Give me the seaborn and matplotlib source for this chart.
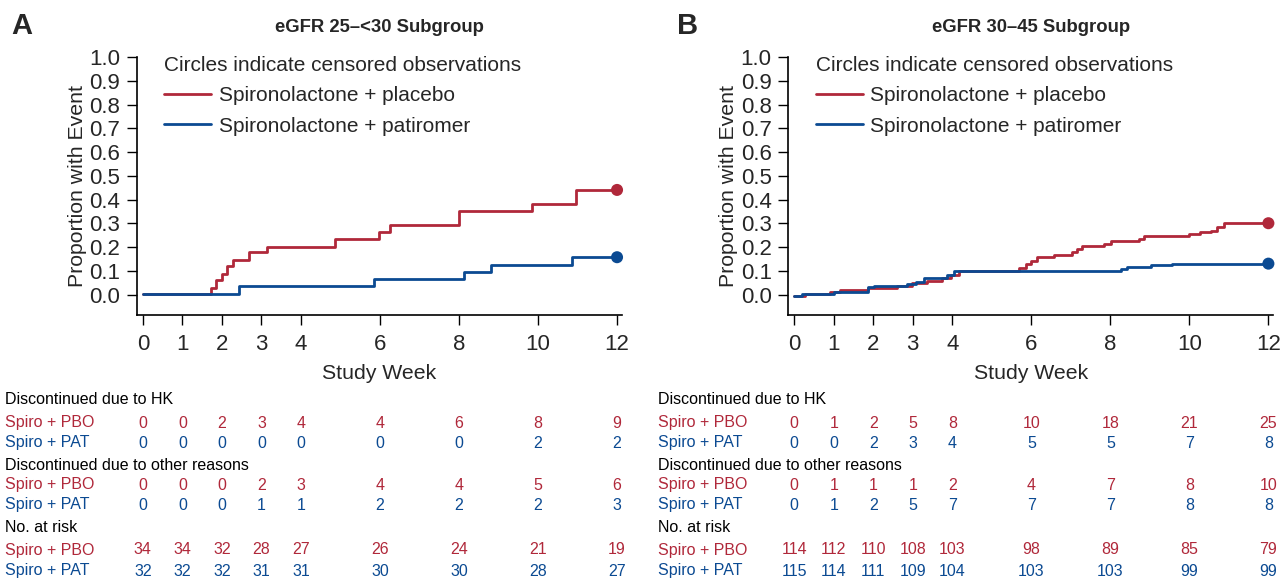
import matplotlib
matplotlib.use("Agg")
import matplotlib.pyplot as plt
import matplotlib.transforms as mtransforms
from matplotlib.lines import Line2D
import numpy as np
import pandas as pd
import seaborn as sns

sns.set_theme(style="ticks")
plt.rcParams["font.family"] = ["Liberation Sans", "DejaVu Sans"]

RED = "#B0283A"
BLUE = "#0B4A92"

# --- cumulative incidence step data (week, proportion) ---
a_pbo_t = [0, 1.72, 1.86, 1.99, 2.14, 2.28, 2.69, 3.14, 4.85, 5.98, 6.26, 7.99, 9.84, 10.97, 12]
a_pbo_y = [0.005, 0.028, 0.063, 0.088, 0.119, 0.147, 0.179, 0.203, 0.234, 0.263, 0.294, 0.352, 0.382, 0.441, 0.441]
a_pat_t = [0, 2.42, 5.86, 8.13, 8.82, 10.85, 12]
a_pat_y = [0.005, 0.035, 0.067, 0.097, 0.126, 0.158, 0.158]

b_pbo_t = [0, 0.28, 0.9, 1.15, 1.86, 2.6, 2.98, 3.36, 3.74, 3.96, 4.17, 5.69, 5.86, 6.0, 6.14,
           6.58, 7.03, 7.16, 7.28, 7.85, 8.02, 8.72, 8.86, 10.0, 10.28, 10.55, 10.71, 10.88, 12]
b_pbo_y = [-0.003, 0.004, 0.013, 0.021, 0.029, 0.038, 0.049, 0.06, 0.07, 0.084, 0.1, 0.112, 0.129, 0.143, 0.161,
           0.168, 0.179, 0.192, 0.206, 0.213, 0.227, 0.235, 0.248, 0.256, 0.263, 0.27, 0.284, 0.301, 0.301]
b_pat_t = [0, 0.2, 1.0, 1.86, 2.01, 2.86, 3.07, 3.28, 3.87, 4.04, 8.27, 8.42, 9.02, 9.57, 12]
b_pat_y = [-0.003, 0.003, 0.013, 0.032, 0.038, 0.046, 0.055, 0.07, 0.084, 0.098, 0.109, 0.116, 0.125, 0.131, 0.131]

# --- tables under the plots ---
table_weeks = [0, 1, 2, 3, 4, 6, 8, 10, 12]
a_hk_pbo = [0, 0, 2, 3, 4, 4, 6, 8, 9]
a_hk_pat = [0, 0, 0, 0, 0, 0, 0, 2, 2]
a_oth_pbo = [0, 0, 0, 2, 3, 4, 4, 5, 6]
a_oth_pat = [0, 0, 0, 1, 1, 2, 2, 2, 3]
a_risk_pbo = [34, 34, 32, 28, 27, 26, 24, 21, 19]
a_risk_pat = [32, 32, 32, 31, 31, 30, 30, 28, 27]

b_hk_pbo = [0, 1, 2, 5, 8, 10, 18, 21, 25]
b_hk_pat = [0, 0, 2, 3, 4, 5, 5, 7, 8]
b_oth_pbo = [0, 1, 1, 1, 2, 4, 7, 8, 10]
b_oth_pat = [0, 1, 2, 5, 7, 7, 7, 8, 8]
b_risk_pbo = [114, 112, 110, 108, 103, 98, 89, 85, 79]
b_risk_pat = [115, 114, 111, 109, 104, 103, 103, 99, 99]

xticks = [0, 1, 2, 3, 4, 6, 8, 10, 12]
yticks = np.round(np.arange(0, 1.01, 0.1), 1)


def km_frame(pbo_t, pbo_y, pat_t, pat_y):
    return pd.concat([
        pd.DataFrame({"week": pbo_t, "prop": pbo_y, "arm": "Spironolactone + placebo"}),
        pd.DataFrame({"week": pat_t, "prop": pat_y, "arm": "Spironolactone + patiromer"}),
    ], ignore_index=True)


fig = plt.figure(figsize=(12.86, 5.80), dpi=100)
axA = fig.add_axes([0.1065, 0.4569, 0.377, 0.4448])
axB = fig.add_axes([0.6130, 0.4569, 0.377, 0.4448])

panels = [
    (axA, "A", "eGFR 25\u2013<30 Subgroup", km_frame(a_pbo_t, a_pbo_y, a_pat_t, a_pat_y),
     [a_hk_pbo, a_hk_pat, a_oth_pbo, a_oth_pat, a_risk_pbo, a_risk_pat], 5 / 1286, 11 / 1286),
    (axB, "B", "eGFR 30\u201345 Subgroup", km_frame(b_pbo_t, b_pbo_y, b_pat_t, b_pat_y),
     [b_hk_pbo, b_hk_pat, b_oth_pbo, b_oth_pat, b_risk_pbo, b_risk_pat], 658 / 1286, 677 / 1286),
]

palette = {"Spironolactone + placebo": RED, "Spironolactone + patiromer": BLUE}

for ax, letter, title, df, rows, label_x, letter_x in panels:
    sns.lineplot(data=df, x="week", y="prop", hue="arm", palette=palette, ax=ax,
                 estimator=None, sort=False, drawstyle="steps-post", lw=2.0, legend=False)
    # censored observation circles at end of follow-up
    ends = df.groupby("arm", sort=False).tail(1)
    sns.scatterplot(data=ends, x="week", y="prop", hue="arm", palette=palette, ax=ax,
                    s=75, edgecolor="none", legend=False, zorder=5, clip_on=False)

    ax.set_xlim(-0.15, 12.12)
    ax.set_ylim(-0.085, 1.0)
    ax.set_xticks(xticks)
    ax.set_yticks(yticks)
    ax.set_yticklabels([f"{v:.1f}" for v in yticks])
    ax.tick_params(axis="both", labelsize=16, length=7, width=1, color="black")
    ax.tick_params(axis="y", pad=5)
    ax.tick_params(axis="x", pad=7)
    for s in ["top", "right"]:
        ax.spines[s].set_visible(False)
    for s in ["left", "bottom"]:
        ax.spines[s].set_color("black")
        ax.spines[s].set_linewidth(1.2)
    ax.set_xlabel("Study Week", fontsize=15.3, labelpad=6)
    ax.set_ylabel("Proportion with Event", fontsize=15.3, labelpad=2)

    handles = [Line2D([0], [0], color=RED, lw=2.0), Line2D([0], [0], color=BLUE, lw=2.0)]
    ax.legend(handles, ["Spironolactone + placebo", "Spironolactone + patiromer"],
              title="Circles indicate censored observations", title_fontsize=15,
              fontsize=15, frameon=False, loc="upper left",
              bbox_to_anchor=(0.035, 1.045), handlelength=2.25, handletextpad=0.38,
              labelspacing=0.55, alignment="left", borderpad=0)

    fig.text(letter_x, 0.955, letter, fontsize=21, fontweight="bold", ha="left", va="center")
    ax.set_title(title, fontsize=13.3, fontweight="bold", pad=18)

    # tables
    trans = mtransforms.blended_transform_factory(ax.transData, fig.transFigure)
    headers = [("Discontinued due to HK", 400), ("Discontinued due to other reasons", 465),
               ("No. at risk", 527)]
    row_y = [423, 443, 485, 505, 550, 571]
    row_lab = ["Spiro + PBO", "Spiro + PAT"] * 3
    row_col = [RED, BLUE] * 3
    for h, yy in headers:
        fig.text(label_x, 1 - yy / 580, h, fontsize=11.5, ha="left", va="center", color="black")
    for vals, yy, lab, col in zip(rows, row_y, row_lab, row_col):
        fig.text(label_x, 1 - yy / 580, lab, fontsize=11.5, ha="left", va="center", color=col)
        for wk, v in zip(table_weeks, vals):
            ax.text(wk, 1 - yy / 580, str(v), transform=trans, fontsize=11.5,
                    ha="center", va="center", color=col)

fig.savefig("out.png", dpi=100)
